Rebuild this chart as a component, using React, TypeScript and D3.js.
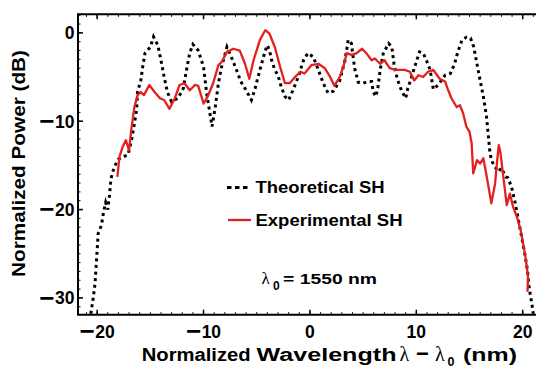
import React from "react";
import * as d3 from "d3";

const theoX = [-20.6, -20.4, -20.2, -20.1, -20.0, -19.9, -19.6, -19.4, -19.2, -19.0, -18.85, -18.7, -18.4, -18.0, -17.5, -17.1, -16.8, -16.6, -16.3, -16.2, -15.9, -15.7, -15.5, -15.0, -14.7, -14.3, -14.0, -13.7, -13.4, -13.0, -12.4, -11.9, -11.6, -11.3, -11.0, -10.5, -10.0, -9.7, -9.4, -9.2, -8.9, -8.6, -8.3, -7.8, -7.4, -6.9, -6.5, -6.0, -5.5, -5.2, -4.7, -4.2, -4.0, -3.8, -3.6, -3.3, -3.0, -2.7, -2.35, -2.0, -1.6, -1.1, -0.6, -0.2, 0.3, 0.8, 1.25, 1.7, 2.2, 2.8, 3.3, 3.6, 3.9, 4.2, 4.55, 5.0, 5.5, 5.8, 5.95, 6.2, 6.4, 6.6, 6.9, 7.4, 7.7, 7.9, 8.2, 8.6, 9.0, 9.2, 9.5, 9.9, 10.3, 10.65, 10.95, 11.3, 11.6, 12.05, 12.7, 13.2, 13.6, 13.9, 14.3, 14.7, 15.1, 15.4, 15.7, 16.0, 16.3, 16.6, 16.75, 16.9, 17.05, 17.4, 17.7, 18.0, 18.4, 18.6, 18.95, 19.3, 19.6, 19.9, 20.2, 20.45, 20.6, 20.85, 21.0];
const theoY = [-31.8, -30.3, -28.4, -26.5, -24.6, -22.7, -21.8, -20.3, -19.2, -20.0, -18.5, -16.5, -15.2, -14.3, -14.0, -13.8, -12.3, -11.0, -8.75, -6.7, -5.4, -3.7, -2.3, -1.6, -0.45, -1.4, -3.1, -5.0, -6.7, -7.8, -7.4, -6.3, -4.2, -2.3, -1.3, -2.0, -3.85, -6.9, -9.1, -10.6, -8.4, -5.7, -3.85, -1.6, -2.7, -4.2, -5.5, -6.5, -7.6, -6.5, -4.2, -2.0, -1.4, -2.0, -3.1, -4.2, -4.8, -6.1, -7.2, -7.6, -6.5, -5.0, -3.1, -2.3, -2.7, -4.2, -5.7, -6.8, -6.6, -5.4, -3.1, -0.8, -1.2, -4.0, -5.6, -5.7, -5.5, -5.5, -6.7, -7.2, -6.1, -4.2, -2.3, -1.2, -1.6, -3.5, -5.2, -6.5, -7.4, -6.3, -5.2, -3.65, -2.15, -2.3, -3.1, -4.2, -6.4, -5.9, -4.8, -4.6, -3.5, -2.15, -0.8, -0.5, -0.6, -1.6, -3.5, -5.4, -7.2, -9.5, -11.4, -13.3, -14.4, -15.2, -15.7, -15.3, -16.3, -16.4, -17.4, -19.3, -21.2, -23.1, -25.0, -26.9, -28.8, -30.6, -31.8];

const expX = [-18.1, -17.9, -17.6, -17.3, -17.0, -16.8, -16.5, -16.2, -15.9, -15.6, -15.1, -14.6, -14.1, -13.7, -13.2, -12.7, -12.25, -11.8, -11.3, -10.8, -10.5, -10.0, -9.6, -9.1, -8.6, -8.3, -7.8, -7.2, -6.6, -6.1, -5.7, -5.3, -4.7, -4.2, -3.8, -3.3, -2.8, -2.35, -1.9, -1.4, -0.9, -0.5, 0.15, 0.8, 1.4, 1.9, 2.3, 2.8, 3.2, 3.45, 3.9, 4.4, 4.9, 5.3, 5.8, 6.1, 6.6, 7.0, 7.5, 8.0, 8.5, 8.9, 9.4, 9.8, 10.2, 10.65, 11.1, 11.6, 12.2, 12.7, 13.0, 13.3, 13.8, 14.1, 14.4, 14.7, 15.0, 15.2, 15.35, 15.7, 16.0, 16.3, 16.5, 16.8, 17.05, 17.4, 17.6, 17.75, 17.9, 18.1, 18.3, 18.5, 18.8, 19.1, 19.5, 19.8, 20.05, 20.3, 20.5, 20.45];
const expY = [-16.3, -14.0, -12.9, -12.15, -13.3, -11.0, -8.4, -7.05, -6.7, -7.05, -5.9, -6.7, -7.4, -7.6, -8.6, -7.4, -5.9, -5.7, -6.5, -5.9, -6.0, -8.0, -7.2, -5.7, -3.65, -3.3, -2.15, -1.8, -2.0, -3.5, -5.2, -3.1, -0.8, 0.3, -0.1, -1.6, -3.85, -5.7, -5.7, -5.0, -4.4, -4.6, -3.65, -3.5, -4.0, -5.0, -6.0, -5.0, -3.6, -2.3, -2.5, -2.3, -1.8, -2.3, -3.1, -2.9, -3.5, -3.1, -4.0, -4.2, -4.2, -4.2, -4.4, -5.4, -4.8, -5.0, -4.4, -4.2, -5.2, -5.5, -6.5, -7.4, -8.4, -8.2, -9.1, -10.6, -11.2, -12.5, -15.9, -14.4, -14.8, -14.2, -15.5, -17.5, -19.3, -17.1, -14.5, -12.7, -13.5, -15.5, -17.5, -19.5, -18.2, -19.7, -21.0, -22.3, -23.9, -25.7, -27.6, -29.3];

const xTicks = [-20, -10, 0, 10, 20];
const yTicks = [0, -10, -20, -30];
const legendLabels = ["Theoretical SH", "Experimental SH"];

function tickLabel(v: number) {
  if (v >= 0) return <tspan>{String(v)}</tspan>;
  return (
    <>
      <tspan fontSize={26} dy={2.4}>{"\u2212"}</tspan>
      <tspan dx={0.5} dy={-2.4}>{String(Math.abs(v))}</tspan>
    </>
  );
}

export default function App() {
  const W = 536, H = 367;
  const left = 78, right = 536, top = 14.3, bottom = 314.7;
  const x = d3.scaleLinear().domain([-21.8, 21.25]).range([left, right]);
  const y = d3.scaleLinear().domain([-31.9, 2.1]).range([bottom, top]);
  const line = d3.line<[number, number]>().x(d => x(d[0])).y(d => y(d[1]));
  const theo: [number, number][] = theoX.map((v, i) => [v, theoY[i]]);
  const exp: [number, number][] = expX.map((v, i) => [v, expY[i]]);
  const xMinor = d3.range(-21, 22);
  const yMinor = d3.range(-31, 3);
  const font = "'Liberation Sans', Arial, Helvetica, sans-serif";
  const serif = "'Liberation Serif', 'Times New Roman', serif";
  const red = "#e3201f";
  const sg = "spacingAndGlyphs";

  return (
    <svg width={W} height={H} style={{ position: "absolute", left: 0, top: 0, background: "#fff" }} fontFamily={font} fontWeight="bold">
      <defs>
        <clipPath id="plot">
          <rect x={left} y={top} width={right - left} height={bottom - top} />
        </clipPath>
      </defs>
      {/* minor ticks */}
      {xMinor.map(v => (
        <g key={"xm" + v}>
          <line x1={x(v)} x2={x(v)} y1={bottom} y2={bottom - 2.5} stroke="#000" strokeWidth={1} />
          <line x1={x(v)} x2={x(v)} y1={top} y2={top + 2.5} stroke="#000" strokeWidth={1} />
        </g>
      ))}
      {yMinor.map(v => (
        <line key={"ym" + v} x1={left} x2={left + 2.5} y1={y(v)} y2={y(v)} stroke="#000" strokeWidth={1} />
      ))}
      {/* major ticks */}
      {xTicks.map(v => (
        <g key={"xt" + v}>
          <line x1={x(v)} x2={x(v)} y1={bottom} y2={bottom - 5} stroke="#000" strokeWidth={1.5} />
          <line x1={x(v)} x2={x(v)} y1={top} y2={top + 5} stroke="#000" strokeWidth={1.5} />
          <text x={x(v)} y={337.5} textAnchor="middle" fontSize={17.5}>{tickLabel(v)}</text>
        </g>
      ))}
      {yTicks.map(v => (
        <g key={"yt" + v}>
          <line x1={left} x2={left + 5} y1={y(v)} y2={y(v)} stroke="#000" strokeWidth={1.5} />
          <text x={74.5} y={y(v) + 6.3} textAnchor="end" fontSize={17.5}>{tickLabel(v)}</text>
        </g>
      ))}
      {/* spines */}
      <path d={`M${right},${top}H${left}V${bottom}H${right}`} fill="none" stroke="#000" strokeWidth={2} />
      {/* curves */}
      <g clipPath="url(#plot)">
        <path d={line(theo) || ""} fill="none" stroke="#000" strokeWidth={3} strokeDasharray="3,3.6" />
        <path d={line(exp) || ""} fill="none" stroke={red} strokeWidth={2.3} strokeLinejoin="round" />
      </g>
      {/* legend */}
      <line x1={227} x2={251} y1={187.5} y2={187.5} stroke="#000" strokeWidth={3} strokeDasharray="4.5,3.5" />
      <text x={255.5} y={193.3} fontSize={16} textLength={129} lengthAdjust={sg}>{legendLabels[0]}</text>
      <line x1={228} x2={251} y1={220} y2={220} stroke={red} strokeWidth={2.3} />
      <text x={255.5} y={226} fontSize={16} textLength={147} lengthAdjust={sg}>{legendLabels[1]}</text>
      {/* lambda annotation */}
      <text x={261.5} y={283.5} fontSize={17} fontFamily={serif} fontWeight="normal">λ</text>
      <text x={273} y={290} fontSize={12}>0</text>
      <text x={283} y={283.5} fontSize={14.5} textLength={94} lengthAdjust={sg}>= 1550 nm</text>
      {/* x axis label */}
      <text x={141.7} y={361} fontSize={17.5} textLength={109} lengthAdjust={sg}>Normalized</text>
      <text x={256.5} y={361} fontSize={17.5} textLength={140} lengthAdjust={sg}>Wavelength</text>
      <text x={399.5} y={361} fontSize={20} fontFamily={serif} fontWeight="normal">λ</text>
      <text x={416} y={361} fontSize={22}>{"\u2212"}</text>
      <text x={435} y={361} fontSize={20} fontFamily={serif} fontWeight="normal">λ</text>
      <text x={447.5} y={365.5} fontSize={12.5}>0</text>
      <text x={463} y={361} fontSize={17.5} textLength={54} lengthAdjust={sg}>(nm)</text>
      {/* y axis label */}
      <text transform="translate(25,163.5) rotate(-90)" textAnchor="middle" fontSize={17.5} textLength={227} lengthAdjust={sg}>
        Normalized Power (dB)
      </text>
    </svg>
  );
}
